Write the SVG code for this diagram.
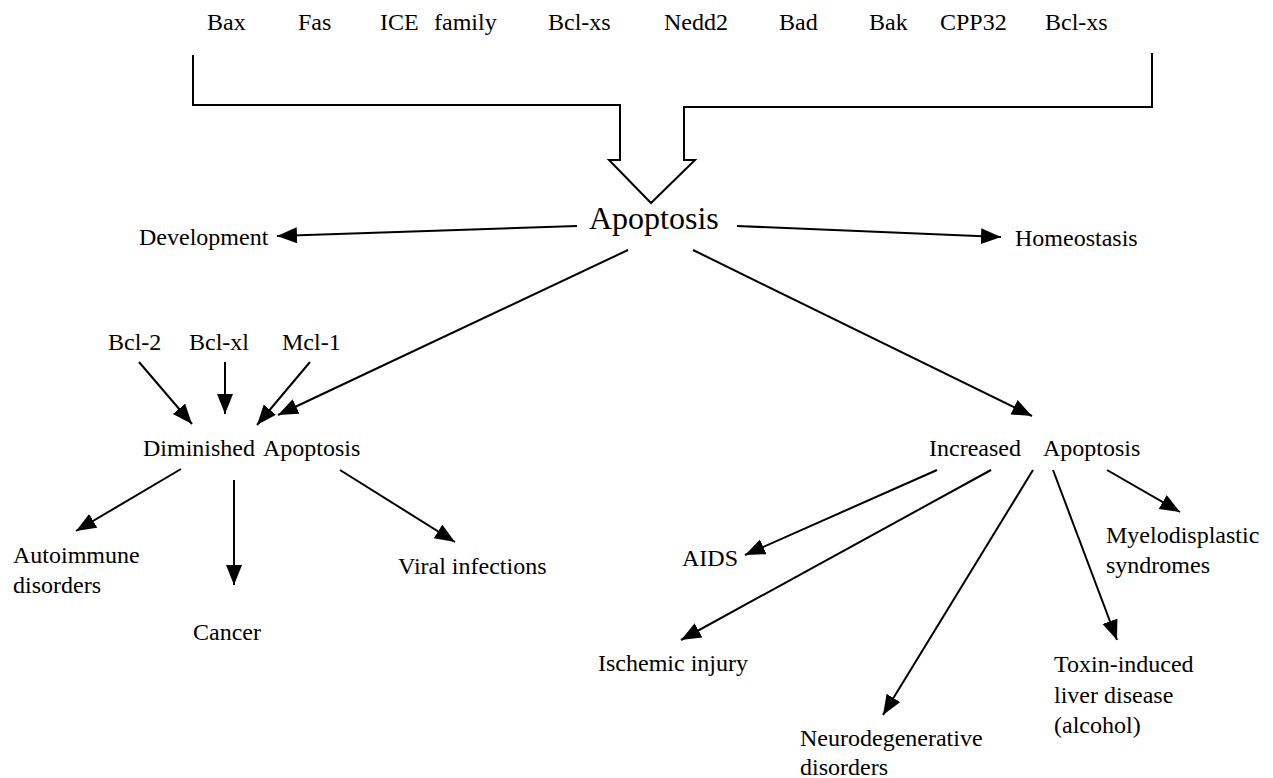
<svg xmlns="http://www.w3.org/2000/svg" width="1273" height="778" viewBox="0 0 1273 778" font-family="'Liberation Serif', 'DejaVu Serif', serif">
<defs>
<marker id="ah" markerUnits="userSpaceOnUse" markerWidth="22" markerHeight="18" refX="20" refY="8" orient="auto">
<path d="M0,0 L20,8 L0,16 z" fill="#000"/>
</marker>
<style>
text{font-family:'Liberation Serif','DejaVu Serif',serif;font-size:24px;fill:#000}
.big{font-size:32px}
.c line{stroke:#000;stroke-width:2;marker-end:url(#ah)}
.outline{fill:none;stroke:#000;stroke-width:2}
</style>
</defs>
<rect width="1273" height="778" fill="#fff"/>
<g id="inducers">
<text x="207" y="30">Bax</text>
<text x="298" y="30">Fas</text>
<text x="380" y="30">ICE<tspan x="434">family</tspan></text>
<text x="548" y="30">Bcl-xs</text>
<text x="664" y="30">Nedd2</text>
<text x="779" y="30">Bad</text>
<text x="869" y="30">Bak</text>
<text x="940" y="30">CPP32</text>
<text x="1045" y="30">Bcl-xs</text>
</g>
<g id="bigarrow">
<path class="outline" d="M193,55 V105 H620 V160 H609 L651,203 L695,160 H684 V107 H1152 V53"/>
</g>
<g id="apoptosis"><text class="big" x="589" y="229">Apoptosis</text></g>
<g id="development"><text x="139" y="245">Development</text></g>
<g id="homeostasis"><text x="1015" y="246">Homeostasis</text></g>
<g id="bcl2"><text x="108" y="350">Bcl-2</text></g>
<g id="bclxl"><text x="189" y="350">Bcl-xl</text></g>
<g id="mcl1"><text x="282" y="350">Mcl-1</text></g>
<g id="diminished"><text x="143" y="456">Diminished<tspan x="263">Apoptosis</tspan></text></g>
<g id="increased"><text x="929" y="456">Increased<tspan x="1043">Apoptosis</tspan></text></g>
<g id="autoimmune"><text x="13" y="563">Autoimmune</text><text x="13" y="593">disorders</text></g>
<g id="cancer"><text x="193" y="640">Cancer</text></g>
<g id="viral"><text x="398" y="574">Viral infections</text></g>
<g id="aids"><text x="682" y="566">AIDS</text></g>
<g id="ischemic"><text x="598" y="671">Ischemic injury</text></g>
<g id="neuro"><text x="800" y="746">Neurodegenerative</text><text x="800" y="775">disorders</text></g>
<g id="toxin"><text x="1054" y="672">Toxin-induced</text><text x="1054" y="703">liver disease</text><text x="1054" y="733">(alcohol)</text></g>
<g id="myelo"><text x="1106" y="543">Myelodisplastic</text><text x="1106" y="573">syndromes</text></g>
<g id="connectors" class="c">
<line x1="577" y1="226" x2="277" y2="236"/>
<line x1="737" y1="226" x2="1001" y2="237"/>
<line x1="628" y1="250" x2="278" y2="415"/>
<line x1="693" y1="250" x2="1032" y2="416"/>
<line x1="139" y1="362" x2="192" y2="424"/>
<line x1="225" y1="362" x2="225" y2="414"/>
<line x1="310" y1="362" x2="257" y2="425"/>
<line x1="181" y1="469" x2="76" y2="531"/>
<line x1="234" y1="480" x2="234" y2="585"/>
<line x1="340" y1="470" x2="455" y2="542"/>
<line x1="937" y1="470" x2="745" y2="555"/>
<line x1="991" y1="470" x2="681" y2="640"/>
<line x1="1033" y1="470" x2="883" y2="715"/>
<line x1="1053" y1="470" x2="1117" y2="640"/>
<line x1="1107" y1="470" x2="1180" y2="512"/>
</g>
</svg>
